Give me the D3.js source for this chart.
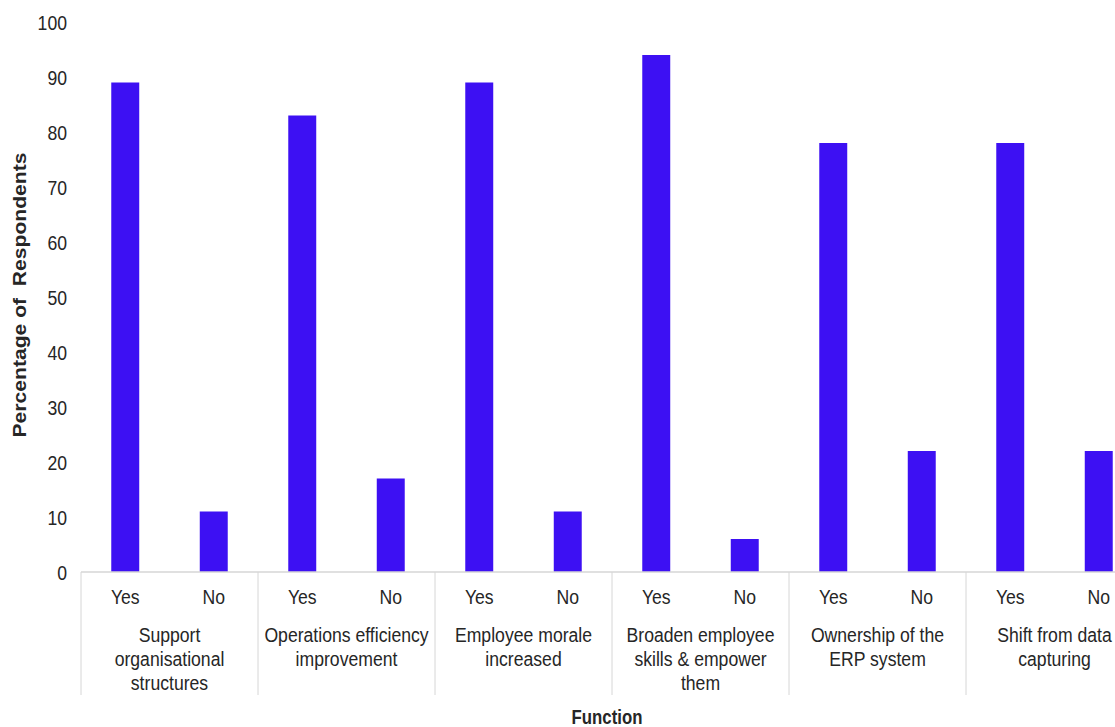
<!DOCTYPE html>
<html>
<head>
<meta charset="utf-8">
<script src="https://cdn.jsdelivr.net/npm/d3@7"></script>
<style>
  html, body { margin: 0; padding: 0; background: #fff; }
  svg { display: block; }
  text { font-family: "Liberation Sans", Arial, sans-serif; }
</style>
</head>
<body>
<svg id="chart" width="1115" height="727"></svg>
<script>
const categories = [
  "Support\norganisational\nstructures",
  "Operations efficiency\nimprovement",
  "Employee morale\nincreased",
  "Broaden employee\nskills & empower\nthem",
  "Ownership of the\nERP system",
  "Shift from data\ncapturing"
];
const answers = ["Yes", "No"];
const yesValues = [89, 83, 89, 94, 78, 78];
const noValues = [11, 17, 11, 6, 22, 22];
const yTicks = [0, 10, 20, 30, 40, 50, 60, 70, 80, 90, 100];
const yTitle = "Percentage of  Respondents";
const xTitle = "Function";

const rows = [];
categories.forEach((c, i) => {
  rows.push({ key: i + "-Yes", cat: i, answer: answers[0], value: yesValues[i] });
  rows.push({ key: i + "-No", cat: i, answer: answers[1], value: noValues[i] });
});

const svg = d3.select("#chart");
const left = 81, groupW = 177, baseY = 572, topY = 22;
const right = left + groupW * categories.length;
const SX = 0.84;      // horizontal compression to mimic a narrow face
const FS = 21;
const textColor = "#262626";

const y = d3.scaleLinear().domain([0, 100]).range([baseY, topY]);
const x = d3.scaleBand().domain(rows.map(d => d.key)).range([left, right])
  .paddingInner(0.684).paddingOuter(0.342);
const xg = d3.scaleBand().domain(categories.map((c, i) => i)).range([left, right]).padding(0);

// y tick labels
const yAxis = d3.axisLeft(y).tickValues(yTicks).tickSize(0).tickPadding(0).tickFormat(d3.format("d"));
const ya = svg.append("g").attr("transform", "translate(67,0)").call(yAxis);
ya.select(".domain").remove();
ya.attr("font-family", null).attr("font-size", null);
ya.selectAll("text")
  .attr("x", 0).attr("dy", "0.35em")
  .attr("font-size", FS).attr("fill", textColor)
  .attr("transform", `scale(${SX},1)`);

// bars
svg.append("g").selectAll("rect").data(rows).join("rect")
  .attr("x", d => x(d.key))
  .attr("width", x.bandwidth())
  .attr("y", d => y(d.value))
  .attr("height", d => y(0) - y(d.value))
  .attr("fill", "#3d10f3");

// baseline
svg.append("line").attr("x1", left).attr("x2", 1115).attr("y1", baseY).attr("y2", baseY)
  .attr("stroke", "#d6d6d6").attr("stroke-width", 1.5);

// group dividers
const bounds = categories.map((c, i) => xg(i));
svg.append("g").selectAll("line").data(bounds).join("line")
  .attr("x1", d => d).attr("x2", d => d)
  .attr("y1", baseY).attr("y2", 695)
  .attr("stroke", "#d6d6d6").attr("stroke-width", 1);

// Yes/No labels
svg.append("g").selectAll("g").data(rows).join("g")
  .attr("transform", d => `translate(${x(d.key) + x.bandwidth() / 2},597)`)
  .append("text")
  .attr("transform", `scale(${SX},1)`)
  .attr("dy", "0.35em")
  .attr("text-anchor", "middle")
  .attr("font-size", FS)
  .attr("fill", textColor)
  .text(d => d.answer);

// category labels
const catG = svg.append("g").selectAll("g").data(categories).join("g")
  .attr("transform", (d, i) => `translate(${xg(i) + xg.bandwidth() / 2},635)`)
  .append("text")
  .attr("transform", `scale(${SX},1)`)
  .attr("text-anchor", "middle")
  .attr("font-size", FS)
  .attr("fill", textColor);
catG.each(function(d) {
  const t = d3.select(this);
  d.split("\n").forEach((line, j) => {
    t.append("tspan").attr("x", 0).attr("y", j * 24).attr("dy", "0.35em").text(line);
  });
});

// axis titles
svg.append("text")
  .attr("transform", "translate(20,295) rotate(-90)")
  .attr("text-anchor", "middle")
  .attr("dy", "0.35em")
  .style("white-space", "pre")
  .attr("font-weight", "bold")
  .attr("font-size", 18)
  .attr("textLength", 285)
  .attr("lengthAdjust", "spacingAndGlyphs")
  .attr("fill", textColor)
  .text(yTitle);

svg.append("g").attr("transform", "translate(607,717)")
  .append("text")
  .attr("transform", `scale(${SX},1)`)
  .attr("dy", "0.35em")
  .attr("text-anchor", "middle")
  .attr("font-weight", "bold")
  .attr("font-size", 20)
  .attr("fill", textColor)
  .text(xTitle);
</script>
</body>
</html>
